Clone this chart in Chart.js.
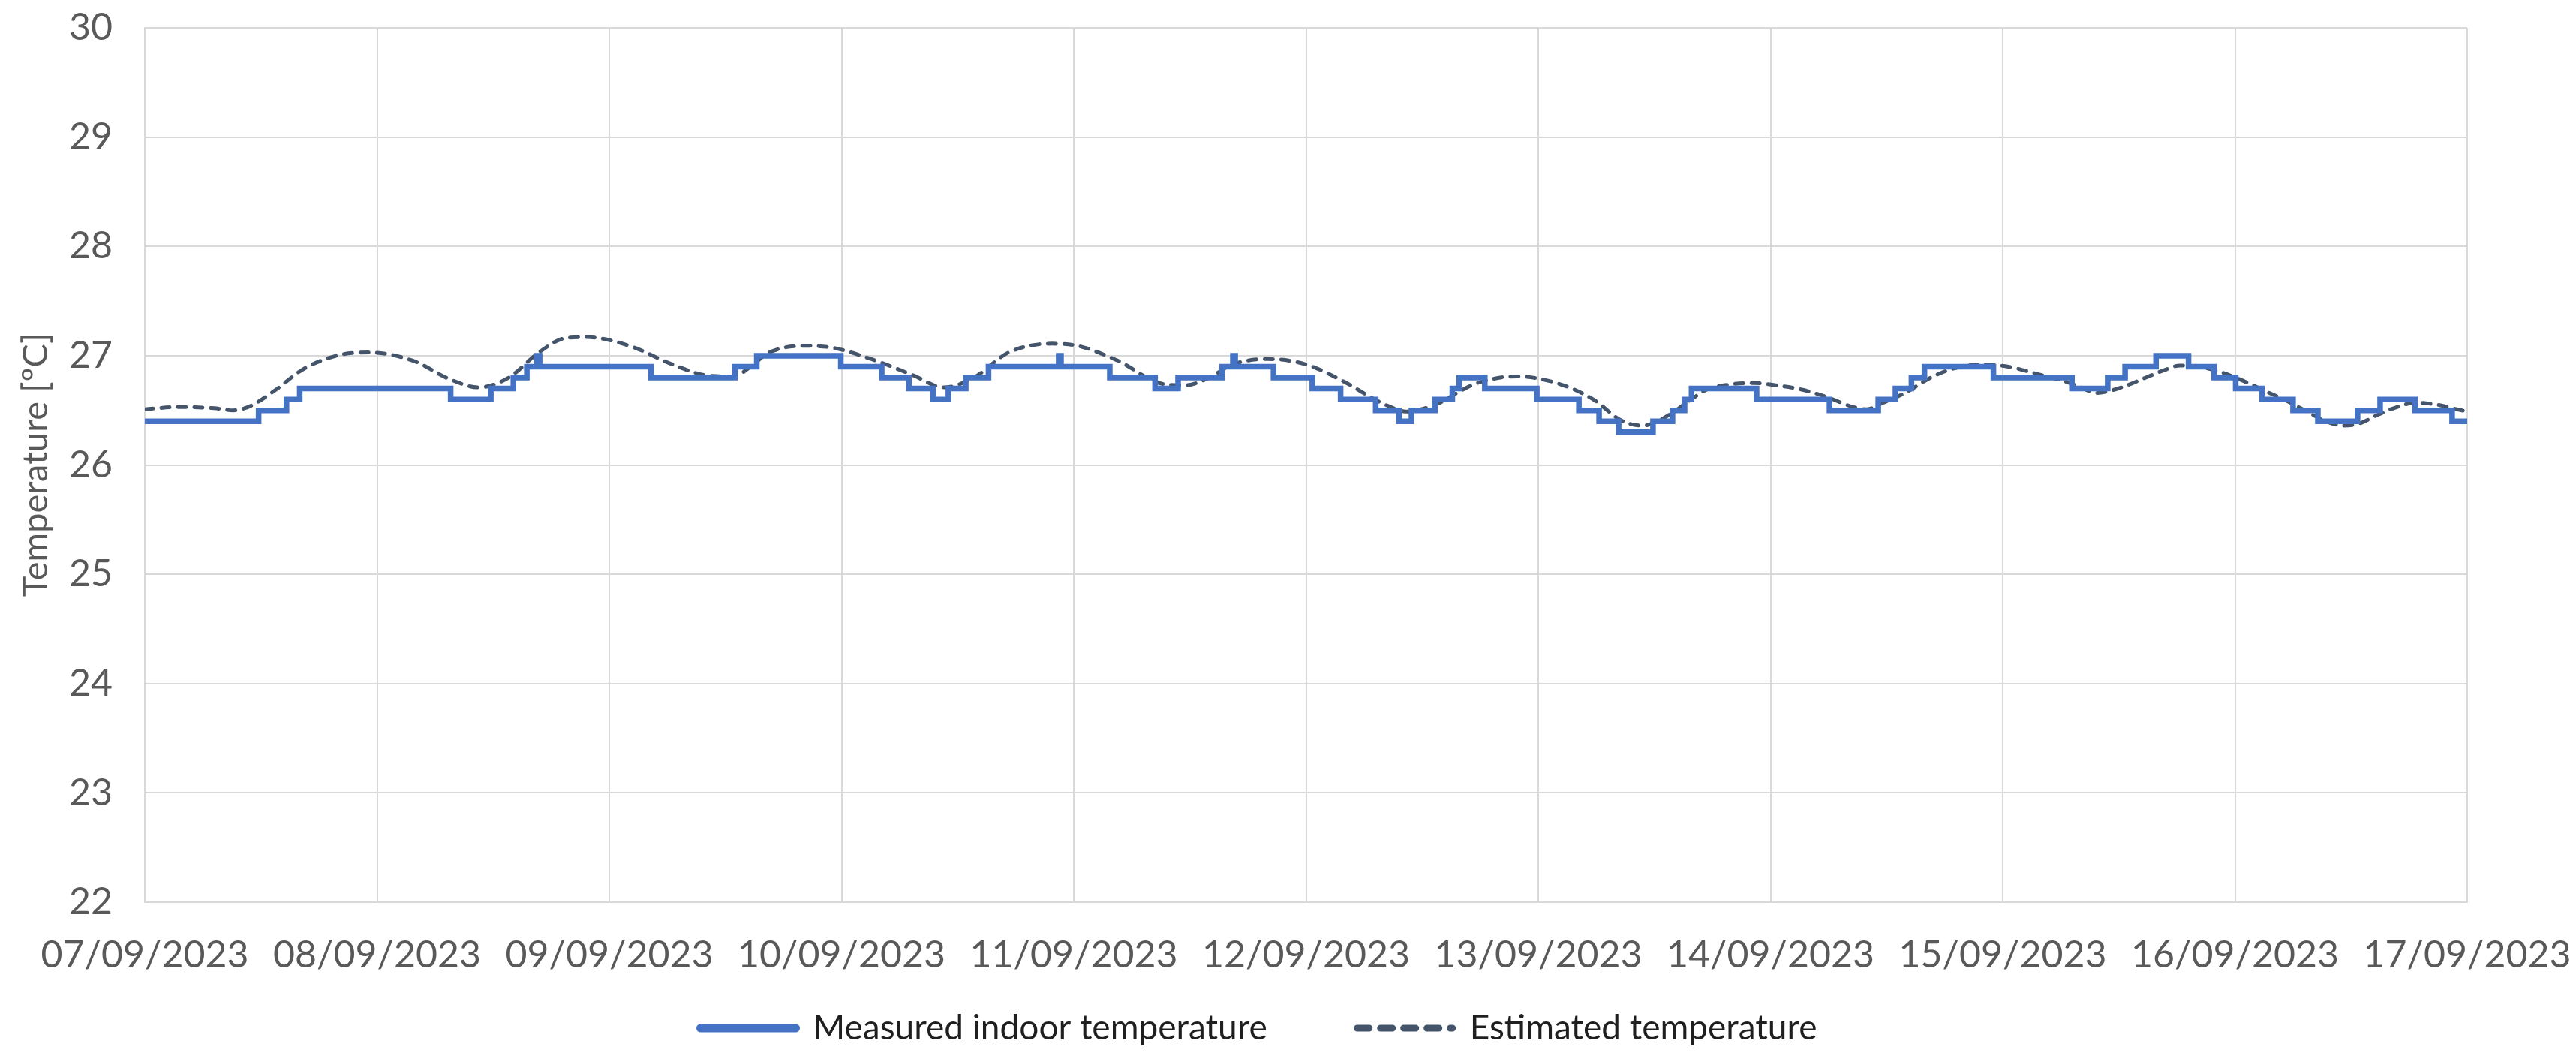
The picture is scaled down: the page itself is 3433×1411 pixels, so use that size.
<!DOCTYPE html>
<html>
<head>
<meta charset="utf-8">
<script src="https://cdn.jsdelivr.net/npm/chart.js@4/dist/chart.umd.min.js"></script>
<style>
html,body{margin:0;padding:0;background:#ffffff;}
canvas{display:block;}
</style>
</head>
<body>
<canvas id="c" width="3433" height="1411"></canvas>
<script>
// ---- Data (x = days since 07/09/2023 00:00) ----
const dateLabels = ['07/09/2023','08/09/2023','09/09/2023','10/09/2023','11/09/2023','12/09/2023','13/09/2023','14/09/2023','15/09/2023','16/09/2023','17/09/2023'];
const yMin = 22;
const yMax = 30;

// Measured indoor temperature: times at which the reading changes, and the new reading
const measuredDays = [0,0.49,0.61,0.667,1.317,1.49,1.587,1.645,1.688,1.70,2.18,2.541,2.635,2.997,3.173,3.29,3.395,3.46,3.535,3.633,3.935,3.945,4.155,4.35,4.449,4.638,4.685,4.695,4.86,5.027,5.149,5.30,5.40,5.454,5.555,5.63,5.66,5.77,5.994,6.175,6.262,6.346,6.494,6.578,6.63,6.66,6.94,7.254,7.464,7.538,7.607,7.663,7.96,8.298,8.452,8.527,8.66,8.80,8.91,9.003,9.116,9.25,9.357,9.528,9.625,9.775,9.935,10.0];
const measuredTemps = [26.4,26.5,26.6,26.7,26.6,26.7,26.8,26.9,27.0,26.9,26.8,26.9,27.0,26.9,26.8,26.7,26.6,26.7,26.8,26.9,27.0,26.9,26.8,26.7,26.8,26.9,27.0,26.9,26.8,26.7,26.6,26.5,26.4,26.5,26.6,26.7,26.8,26.7,26.6,26.5,26.4,26.3,26.4,26.5,26.6,26.7,26.6,26.5,26.6,26.7,26.8,26.9,26.8,26.7,26.8,26.9,27.0,26.9,26.8,26.7,26.6,26.5,26.4,26.5,26.6,26.5,26.4,26.4];

// Estimated temperature
const estimatedDays = [0,0.14,0.30,0.38,0.455,0.565,0.677,0.825,0.965,1.16,1.308,1.438,1.567,1.697,1.809,1.902,2.087,2.272,2.42,2.532,2.62,2.68,2.83,2.94,3.127,3.31,3.44,3.57,3.72,3.906,4.017,4.184,4.388,4.48,4.574,4.685,4.834,5.0,5.166,5.296,5.354,5.43,5.577,5.65,5.725,5.836,5.91,6.003,6.133,6.244,6.355,6.448,6.504,6.578,6.652,6.726,6.837,6.93,7.023,7.135,7.245,7.357,7.412,7.486,7.58,7.69,7.784,7.913,8.025,8.136,8.261,8.326,8.406,8.455,8.536,8.616,8.697,8.762,8.842,8.939,9.036,9.132,9.229,9.326,9.39,9.471,9.536,9.616,9.697,9.778,9.875,9.955,10.0];
const estimatedTemps = [26.51,26.53,26.52,26.50,26.54,26.69,26.87,27.00,27.03,26.95,26.79,26.71,26.80,27.03,27.16,27.17,27.09,26.92,26.82,26.81,26.92,27.02,27.09,27.08,26.97,26.82,26.71,26.80,27.03,27.11,27.09,26.96,26.74,26.73,26.79,26.92,26.97,26.92,26.76,26.60,26.54,26.49,26.57,26.66,26.74,26.80,26.81,26.79,26.71,26.59,26.41,26.36,26.39,26.48,26.59,26.69,26.74,26.75,26.73,26.69,26.62,26.53,26.51,26.57,26.66,26.80,26.88,26.92,26.90,26.84,26.77,26.72,26.66,26.675,26.73,26.80,26.87,26.91,26.90,26.85,26.77,26.675,26.58,26.47,26.40,26.36,26.38,26.46,26.53,26.57,26.55,26.51,26.49];

const seriesNames = ['Measured indoor temperature','Estimated temperature'];

// ---- Chart ----
Chart.defaults.font.family = 'Lato, "Open Sans", sans-serif';

const measuredPoints = measuredDays.map((d, i) => ({x: d, y: measuredTemps[i]}));
const estimatedPoints = estimatedDays.map((d, i) => ({x: d, y: estimatedTemps[i]}));

const gridColor = '#D9D9D9';
const tickColor = '#595959';

new Chart(document.getElementById('c'), {
  type: 'line',
  data: {
    datasets: [
      {
        label: seriesNames[0],
        data: measuredPoints,
        borderColor: '#4472C4',
        backgroundColor: '#4472C4',
        borderWidth: 7.5,
        stepped: 'before',
        pointRadius: 0,
        fill: false,
        borderJoinStyle: 'miter',
        borderCapStyle: 'butt'
      },
      {
        label: seriesNames[1],
        data: estimatedPoints,
        borderColor: '#44546A',
        backgroundColor: '#44546A',
        borderWidth: 5,
        borderDash: [11, 11],
        borderCapStyle: 'round',
        cubicInterpolationMode: 'monotone',
        tension: 0.4,
        pointRadius: 0,
        fill: false
      }
    ]
  },
  options: {
    responsive: false,
    animation: false,
    devicePixelRatio: 1,
    layout: { padding: { left: 67, right: 145, top: 37, bottom: 8 } },
    plugins: {
      tooltip: { enabled: false },
      legend: {
        position: 'bottom',
        labels: {
          usePointStyle: true,
          pointStyleWidth: 127,
          padding: 120,
          color: '#1F1F1F',
          font: { family: 'Lato', size: 46 },
          generateLabels: function(chart) {
            const items = Chart.defaults.plugins.legend.labels.generateLabels(chart);
            items.forEach((it, i) => {
              it.pointStyle = 'line';
              it.lineCap = 'round';
              if (i === 0) { it.lineWidth = 11; it.lineDash = []; }
              else { it.lineWidth = 9; it.lineDash = [16, 15]; }
            });
            return items;
          }
        }
      }
    },
    scales: {
      x: {
        type: 'linear',
        min: 0,
        max: dateLabels.length - 1,
        afterFit: function(s) { s.height = 25; },
        ticks: {
          stepSize: 1,
          autoSkip: false,
          maxRotation: 0,
          mirror: true,
          padding: -101,
          color: tickColor,
          font: { family: 'Lato', size: 50 },
          callback: function(v) { return dateLabels[v]; }
        },
        grid: { color: gridColor, lineWidth: 2, drawTicks: false },
        border: { color: gridColor, width: 2 }
      },
      y: {
        min: yMin,
        max: yMax,
        afterFit: function(s) { s.width = 126; },
        ticks: {
          stepSize: 1,
          padding: 0,
          color: tickColor,
          font: { family: 'Lato', size: 50 }
        },
        title: {
          display: true,
          text: 'Temperature [ºC]',
          color: tickColor,
          font: { family: 'Lato', size: 47 },
          padding: { top: -47, bottom: 0 }
        },
        grid: { color: gridColor, lineWidth: 2, drawTicks: true, tickLength: 43, tickColor: 'rgba(0,0,0,0)' },
        border: { color: gridColor, width: 2 }
      }
    }
  }
});
</script>
</body>
</html>
